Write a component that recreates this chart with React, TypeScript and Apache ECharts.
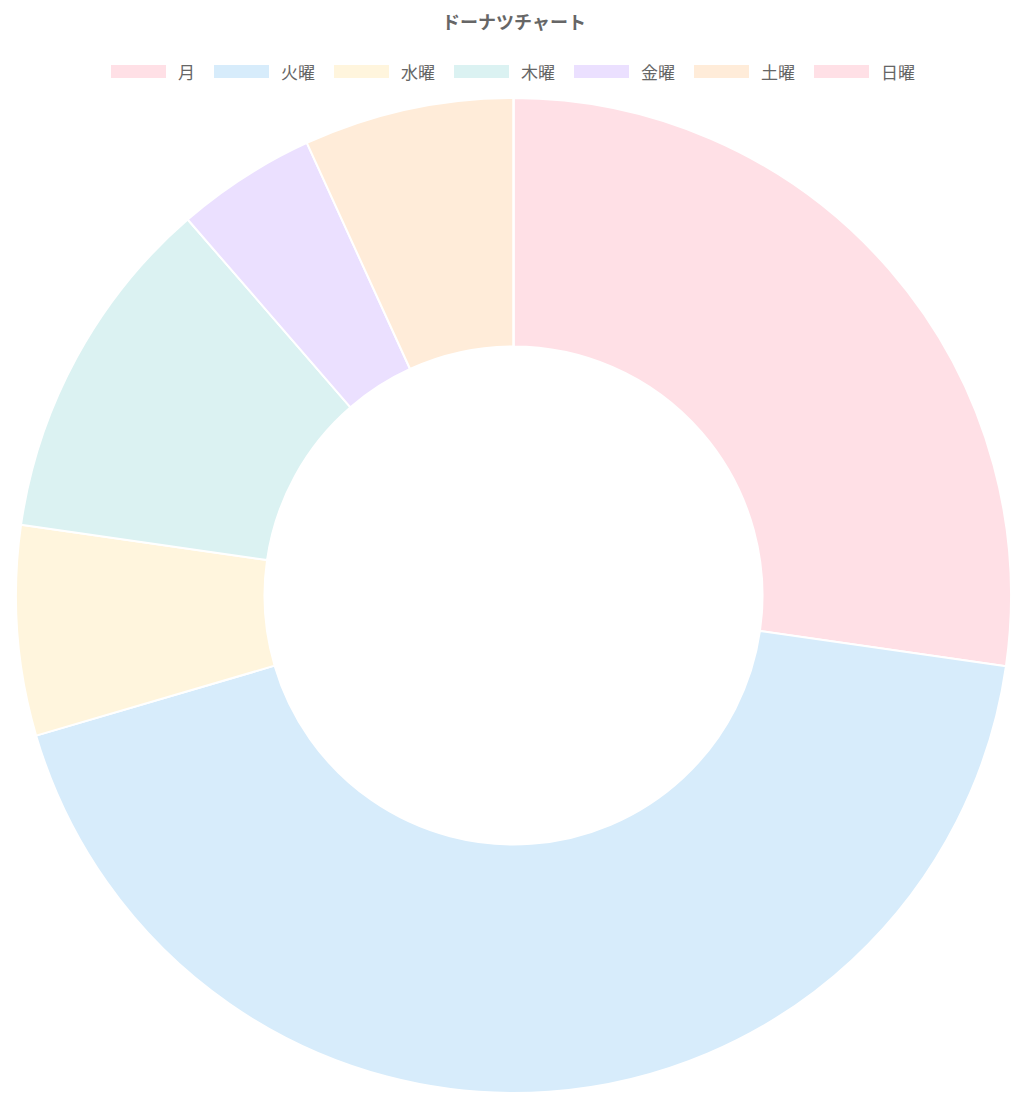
import React, { useEffect, useRef } from "react";
import * as echarts from "echarts";

const titleText = "ドーナツチャート";
const categories = ["月", "火曜", "水曜", "木曜", "金曜", "土曜", "日曜"];
const values = [12, 19, 3, 5, 2, 3, 0];
const colors = ["#FFE0E6", "#D7ECFB", "#FFF5DD", "#DBF2F2", "#EBE0FF", "#FFECD9", "#FFE0E6"];

const FONT = "'Noto Sans CJK JP', 'Noto Sans', sans-serif";

export default function App() {
  const ref = useRef<HTMLDivElement>(null);
  useEffect(() => {
    if (!ref.current) return;
    const chart = echarts.init(ref.current, undefined, { renderer: "svg" });
    chart.setOption({
      animation: false,
      backgroundColor: "#ffffff",
      title: {
        text: titleText,
        left: 506,
        top: 3,
        textAlign: "center",
        padding: 0,
        textStyle: { color: "#666666", fontSize: 18, fontWeight: "bold", fontFamily: FONT, lineHeight: 20 },
      },
      legend: {
        data: categories,
        left: 101,
        top: 55,
        padding: 0,
        icon: "rect",
        itemWidth: 57,
        itemHeight: 15,
        itemGap: 17,
        selectedMode: false,
        textStyle: { color: "#666666", fontSize: 17, fontFamily: FONT, padding: [0, 0, 0, 6] },
      },
      series: [
        {
          type: "pie",
          center: [505.5, 587.5],
          radius: [249, 497.5],
          startAngle: 90,
          clockwise: true,
          avoidLabelOverlap: false,
          label: { show: false },
          labelLine: { show: false },
          emphasis: { disabled: true },
          itemStyle: { borderColor: "#ffffff", borderWidth: 2 },
          data: categories.map((name, i) => ({
            name,
            value: values[i],
            itemStyle: { color: colors[i] },
          })),
        },
      ],
    });
    return () => chart.dispose();
  }, []);
  return <div ref={ref} style={{ width: 1020, height: 1102 }} />;
}
